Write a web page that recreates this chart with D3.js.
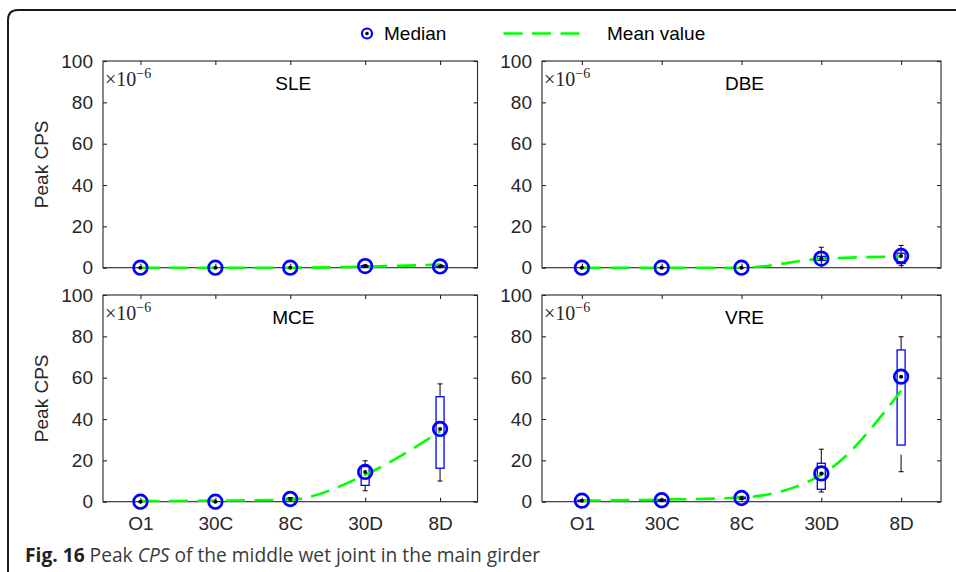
<!DOCTYPE html>
<html>
<head>
<meta charset="utf-8">
<script src="https://cdn.jsdelivr.net/npm/d3@7"></script>
<style>
  html, body { margin: 0; padding: 0; background: #fff; }
  svg { display: block; }
</style>
</head>
<body>
<svg id="chart" width="956" height="572"></svg>
<script>
// Load cases along the x axis
const categories = ["O1", "30C", "8C", "30D", "8D"];
const panelNames = ["SLE", "DBE", "MCE", "VRE"];
const yTicks = [0, 20, 40, 60, 80, 100];

// Medians (x10^-6)
const medianSLE = [0, 0, 0, 0.8, 0.6];
const medianDBE = [0, 0, 0, 4.4, 5.7];
const medianMCE = [0, 0, 1.3, 14.4, 35.2];
const medianVRE = [0.5, 0.7, 1.8, 13.7, 60.5];

// Mean values (x10^-6)
const meanSLE = [0, 0, 0, 0.5, 1.5];
const meanDBE = [0, 0, 0, 4.3, 5.4];
const meanMCE = [0.3, 0.5, 1.0, 13.0, 34.0];
const meanVRE = [0.5, 1.0, 2.0, 13.0, 53.7];

// Box limits: lower quartile, upper quartile, lower whisker, upper whisker
const q1SLE = [0, 0, 0, 0.5, 0.4];
const q3SLE = [0, 0, 0, 1.0, 1.0];
const loSLE = [0, 0, 0, 0.2, 0.2];
const hiSLE = [0, 0, 0, 1.3, 1.4];

const q1DBE = [0, 0, 0, 3.5, 2.0];
const q3DBE = [0, 0, 0, 5.5, 7.0];
const loDBE = [0, 0, 0, 1.0, 1.0];
const hiDBE = [0, 0, 0, 9.9, 10.8];

const q1MCE = [0, 0, 1.0, 7.9, 16.2];
const q3MCE = [0, 0, 1.6, 17.0, 50.8];
const loMCE = [0, 0, 0.8, 5.3, 10.0];
const hiMCE = [0, 0, 2.0, 19.8, 57.0];

const q1VRE = [0.3, 0.5, 1.5, 6.0, 27.4];
const q3VRE = [0.7, 1.0, 2.2, 18.6, 73.4];
const loVRE = [0.2, 0.4, 1.2, 4.7, 14.5];
const hiVRE = [0.8, 1.2, 2.6, 25.4, 79.8];

const panels = [
  { name: panelNames[0], median: medianSLE, mean: meanSLE, q1: q1SLE, q3: q3SLE, lo: loSLE, hi: hiSLE,
    x0: 103, x1: 477.5, y0: 61, y1: 267.7, ylabel: true, xlabels: false },
  { name: panelNames[1], median: medianDBE, mean: meanDBE, q1: q1DBE, q3: q3DBE, lo: loDBE, hi: hiDBE,
    x0: 542, x1: 941, y0: 61, y1: 267.7, ylabel: false, xlabels: false },
  { name: panelNames[2], median: medianMCE, mean: meanMCE, q1: q1MCE, q3: q3MCE, lo: loMCE, hi: hiMCE,
    x0: 103, x1: 477.5, y0: 295, y1: 501.7, ylabel: true, xlabels: true },
  { name: panelNames[3], median: medianVRE, mean: meanVRE, q1: q1VRE, q3: q3VRE, lo: loVRE, hi: hiVRE,
    x0: 542, x1: 941, y0: 295, y1: 501.7, ylabel: false, xlabels: true }
];

const svg = d3.select("#chart");
const axisColor = "#262626";
const sans = "'Liberation Sans', Arial, Helvetica, sans-serif";
const serif = "'Liberation Serif', 'DejaVu Serif', 'Times New Roman', serif";
const blue = "#0000ff";
const green = "#00ff00";

// Figure frame with a rounded top-left corner
svg.append("path")
  .attr("d", "M 8 575 L 8 20 Q 8 10 18 10 L 960 10")
  .attr("fill", "none")
  .attr("stroke", "#1a1a1a")
  .attr("stroke-width", 2);

panels.forEach(p => {
  const g = svg.append("g");
  const x = d3.scalePoint().domain(categories).range([p.x0, p.x1]).padding(0.5);
  const y = d3.scaleLinear().domain([0, 100]).range([p.y1, p.y0]);

  // Plot box
  g.append("rect")
    .attr("x", p.x0).attr("y", p.y0)
    .attr("width", p.x1 - p.x0).attr("height", p.y1 - p.y0)
    .attr("fill", "none").attr("stroke", axisColor).attr("stroke-width", 1.1);

  // Axes with inward ticks on all four sides
  const left = d3.axisLeft(y).tickValues(yTicks).tickSizeInner(-4).tickSizeOuter(0).tickPadding(10);
  const gl = g.append("g").attr("transform", `translate(${p.x0},0)`).call(left);
  const gr = g.append("g").attr("transform", `translate(${p.x1},0)`)
    .call(d3.axisRight(y).tickValues(yTicks).tickSizeInner(-4).tickSizeOuter(0).tickFormat(""));
  const gb = g.append("g").attr("transform", `translate(0,${p.y1})`)
    .call(d3.axisBottom(x).tickSizeInner(-4).tickSizeOuter(0).tickPadding(15));
  const gt = g.append("g").attr("transform", `translate(0,${p.y0})`)
    .call(d3.axisTop(x).tickSizeInner(-4).tickSizeOuter(0).tickFormat(""));
  [gl, gr, gb, gt].forEach(a => {
    a.select(".domain").remove();
    a.selectAll(".tick line").attr("stroke", axisColor).attr("stroke-width", 1.1);
  });
  gl.selectAll(".tick text").attr("fill", axisColor).style("font-family", sans).style("font-size", "19px");
  if (p.xlabels) {
    gb.selectAll(".tick text").attr("fill", axisColor).style("font-family", sans).style("font-size", "19px");
  } else {
    gb.selectAll(".tick text").remove();
  }

  // Exponent note
  const ex = g.append("text")
    .attr("x", p.x0 + 2).attr("y", p.y0 + 25)
    .style("font-family", serif).style("font-size", "20px").attr("fill", axisColor);
  ex.append("tspan").text("\u00d710");
  ex.append("tspan").attr("dy", -8).style("font-size", "14px").text("\u22126");

  // Panel title
  g.append("text")
    .attr("x", (p.x0 + p.x1) / 2 + 3).attr("y", p.y0 + 29)
    .attr("text-anchor", "middle")
    .style("font-family", sans).style("font-size", "19px").attr("fill", "#000")
    .text(p.name);

  // Y-axis title
  if (p.ylabel) {
    g.append("text")
      .attr("transform", `translate(48,${(p.y0 + p.y1) / 2}) rotate(-90)`)
      .attr("text-anchor", "middle")
      .style("font-family", sans).style("font-size", "19px").attr("fill", axisColor)
      .text("Peak CPS");
  }

  const idx = d3.range(categories.length);

  // Whiskers (dashed, drawn from the outer end towards the box), caps and boxes
  idx.forEach(i => {
    const cx = x(categories[i]);
    [[p.hi[i], p.q3[i]], [p.lo[i], p.q1[i]]].forEach(([end, edge]) => {
      g.append("line")
        .attr("x1", cx).attr("x2", cx)
        .attr("y1", y(end)).attr("y2", y(edge))
        .attr("stroke", "#000").attr("stroke-width", 1)
        .attr("stroke-dasharray", "17,10");
      g.append("line")
        .attr("x1", cx - 2.5).attr("x2", cx + 2.5)
        .attr("y1", y(end)).attr("y2", y(end))
        .attr("stroke", "#000").attr("stroke-width", 1);
    });
    g.append("rect")
      .attr("x", cx - 4).attr("width", 8)
      .attr("y", y(p.q3[i])).attr("height", Math.max(0, y(p.q1[i]) - y(p.q3[i])))
      .attr("fill", "none").attr("stroke", blue).attr("stroke-width", 1.3);
  });

  // Mean value line
  const line = d3.line()
    .x((d, i) => x(categories[i]))
    .y(d => y(d))
    .curve(d3.curveMonotoneX);
  g.append("path")
    .attr("d", line(p.mean))
    .attr("fill", "none").attr("stroke", green).attr("stroke-width", 2.6)
    .attr("stroke-dasharray", "19,9.5");

  // Median markers
  idx.forEach(i => {
    const cx = x(categories[i]);
    const cy = y(p.median[i]);
    g.append("circle").attr("cx", cx).attr("cy", cy).attr("r", 6.8)
      .attr("fill", "none").attr("stroke", blue).attr("stroke-width", 2.7);
    g.append("circle").attr("cx", cx).attr("cy", cy).attr("r", 2)
      .attr("fill", "#000");
  });
});

// Legend
const lg = svg.append("g");
lg.append("circle").attr("cx", 367).attr("cy", 33.5).attr("r", 5)
  .attr("fill", "none").attr("stroke", blue).attr("stroke-width", 2.2);
lg.append("circle").attr("cx", 367).attr("cy", 33.5).attr("r", 1.8).attr("fill", "#000");
lg.append("text").attr("x", 384).attr("y", 40)
  .style("font-family", sans).style("font-size", "19px").attr("fill", "#000").text("Median");
lg.append("line").attr("x1", 503.5).attr("x2", 579.5).attr("y1", 33.5).attr("y2", 33.5)
  .attr("stroke", green).attr("stroke-width", 2.6).attr("stroke-dasharray", "19,9.5");
lg.append("text").attr("x", 607).attr("y", 40)
  .style("font-family", sans).style("font-size", "19px").attr("fill", "#000").text("Mean value");

// Caption
const cap = svg.append("text").attr("x", 25).attr("y", 562)
  .style("font-family", "'Open Sans', 'Noto Sans', sans-serif").style("font-size", "19.2px")
  .attr("fill", "#3a3a3a");
cap.append("tspan").style("font-weight", "bold").attr("fill", "#222").text("Fig. 16");
cap.append("tspan").text(" Peak ");
cap.append("tspan").style("font-style", "italic").text("CPS");
cap.append("tspan").text(" of the middle wet joint in the main girder");
</script>
</body>
</html>
